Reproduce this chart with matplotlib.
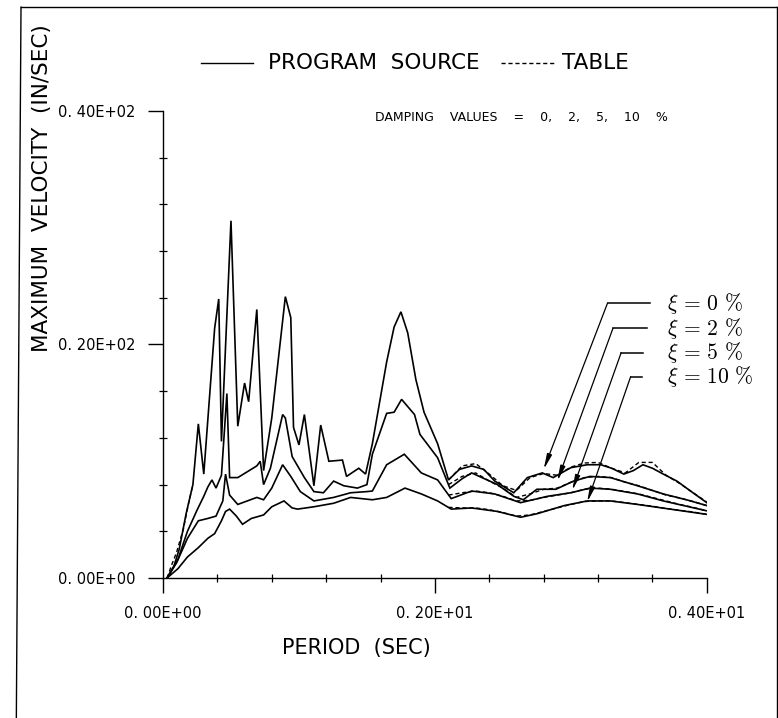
import matplotlib
matplotlib.use("Agg")
import matplotlib.pyplot as plt
from matplotlib.lines import Line2D
import numpy as np

plt.rcParams['font.family'] = ['DejaVu Sans']
plt.rcParams['mathtext.fontset'] = 'cm'

# ---------------- data ----------------
# Program source, damping 0 %
T0 = [0.03, 0.08, 0.12, 0.17, 0.22, 0.26, 0.30, 0.38, 0.41, 0.43, 0.50, 0.55,
      0.60, 0.63, 0.69, 0.74, 0.80, 0.90, 0.94, 0.96, 1.00, 1.04, 1.11, 1.16,
      1.22, 1.32, 1.35, 1.44, 1.49, 1.54, 1.60, 1.645, 1.70, 1.75, 1.80, 1.86,
      1.92, 2.02, 2.10, 2.18, 2.27, 2.36, 2.44, 2.58, 2.68, 2.79, 2.87, 3.00,
      3.12, 3.22, 3.30, 3.39, 3.46, 3.53, 3.60, 3.68, 3.78, 3.88, 4.00]
V0 = [0.0, 1.0, 2.5, 5.5, 8.0, 13.2, 8.9, 21.4, 23.9, 11.7, 30.6, 13.0,
      16.7, 15.1, 23.0, 9.2, 13.7, 24.1, 22.3, 12.9, 11.4, 14.0, 7.9, 13.1,
      10.0, 10.1, 8.7, 9.4, 8.9, 11.5, 15.5, 18.5, 21.5, 22.8, 21.0, 17.0,
      14.2, 11.5, 8.4, 9.3, 9.6, 9.3, 8.3, 7.3, 8.6, 9.0, 8.6, 9.45,
      9.7, 9.7, 9.4, 8.9, 9.2, 9.7, 9.4, 8.9, 8.3, 7.45, 6.45]

# Program source, damping 2 %
T2 = [0.03, 0.11, 0.18, 0.25, 0.30, 0.33, 0.36, 0.39, 0.43, 0.47, 0.49, 0.55,
      0.62, 0.69, 0.715, 0.74, 0.79, 0.88, 0.90, 0.95, 1.04, 1.11, 1.18, 1.255,
      1.33, 1.43, 1.50, 1.54, 1.645, 1.70, 1.755, 1.85, 1.89, 2.02, 2.11, 2.20,
      2.27, 2.46, 2.58, 2.65, 2.75, 2.89, 3.02, 3.14, 3.29, 3.49, 3.68, 3.85, 4.00]
V2 = [0.0, 1.6, 4.0, 5.8, 7.0, 7.8, 8.4, 7.7, 8.8, 15.8, 8.6, 8.6,
      9.1, 9.6, 10.0, 8.0, 9.4, 14.0, 13.7, 10.4, 8.6, 7.4, 7.3, 8.3,
      7.9, 7.7, 8.0, 10.6, 14.1, 14.2, 15.3, 14.0, 12.3, 10.3, 7.7, 8.5,
      9.0, 8.0, 7.0, 6.7, 7.6, 7.6, 8.3, 8.7, 8.6, 7.9, 7.2, 6.7, 6.2]

# Program source, damping 5 %
T5 = [0.03, 0.10, 0.18, 0.26, 0.33, 0.39, 0.44, 0.46, 0.49, 0.55, 0.69, 0.74,
      0.80, 0.88, 0.94, 1.01, 1.11, 1.255, 1.38, 1.50, 1.54, 1.645, 1.775, 1.90,
      2.02, 2.12, 2.27, 2.44, 2.63, 2.83, 3.00, 3.14, 3.29, 3.49, 3.68, 4.00]
V5 = [0.0, 1.3, 3.4, 4.9, 5.1, 5.3, 6.6, 8.9, 7.1, 6.3, 6.9, 6.7,
      7.7, 9.7, 8.7, 7.4, 6.6, 6.9, 7.3, 7.4, 7.45, 9.7, 10.6, 9.0,
      8.4, 6.8, 7.45, 7.2, 6.45, 7.0, 7.3, 7.7, 7.6, 7.2, 6.6, 5.75]

# Program source, damping 10 %
T10 = [0.03, 0.11, 0.18, 0.26, 0.33, 0.38, 0.43, 0.46, 0.49, 0.54, 0.585, 0.65,
       0.74, 0.80, 0.89, 0.95, 0.99, 1.11, 1.255, 1.38, 1.54, 1.645, 1.78, 1.90,
       2.02, 2.12, 2.27, 2.46, 2.63, 2.75, 2.95, 3.12, 3.29, 3.49, 3.73, 4.00]
V10 = [0.0, 0.8, 1.8, 2.6, 3.4, 3.8, 4.9, 5.7, 5.9, 5.3, 4.6, 5.1,
       5.4, 6.1, 6.6, 6.0, 5.9, 6.1, 6.4, 6.9, 6.7, 6.9, 7.7, 7.2,
       6.6, 5.9, 6.0, 5.7, 5.2, 5.5, 6.2, 6.6, 6.6, 6.3, 5.9, 5.45]

# Table values (dashed), visible near the origin and along the long-period tail
TT_start = [0.03, 0.06, 0.10, 0.15, 0.19, 0.22]
VT0_start = [0.0, 1.0, 2.2, 4.2, 6.5, 8.0]
TT_tail = [2.10, 2.20, 2.30, 2.40, 2.50, 2.60, 2.70, 2.80, 2.90, 3.00,
           3.10, 3.20, 3.30, 3.40, 3.50, 3.60, 3.70, 3.80, 3.90, 4.00]
VT0_tail = [8.4, 9.6, 9.8, 8.9, 7.9, 7.5, 8.6, 8.95, 8.8, 9.5,
            9.85, 9.9, 9.4, 9.0, 9.9, 9.9, 8.8, 8.1, 7.3, 6.5]
VT2_tail = [8.0, 8.7, 9.0, 8.3, 7.7, 6.9, 7.2, 7.6, 7.7, 8.2,
            8.6, 8.7, 8.6, 8.2, 7.9, 7.5, 7.1, 6.85, 6.55, 6.2]
VT5_tail = [7.1, 7.3, 7.45, 7.3, 7.0, 6.6, 6.65, 6.9, 7.1, 7.3,
            7.6, 7.7, 7.6, 7.4, 7.2, 6.9, 6.6, 6.3, 6.05, 5.75]
VT10_tail = [6.05, 6.0, 6.0, 5.85, 5.6, 5.3, 5.4, 5.7, 6.0, 6.3,
             6.55, 6.6, 6.6, 6.45, 6.3, 6.15, 5.95, 5.8, 5.65, 5.45]

damping_labels = [r'$\xi\,=\,0\ \%$', r'$\xi\,=\,2\ \%$', r'$\xi\,=\,5\ \%$', r'$\xi\,=\,10\ \%$']
# leader lines: arrow tip (on curve), corner, end of horizontal part
tips = [(2.80, 9.3), (2.90, 8.3), (3.01, 7.5), (3.12, 6.5)]
corners = [(3.27, 23.55), (3.31, 21.4), (3.37, 19.3), (3.44, 17.25)]
ends_x = [3.58, 3.56, 3.53, 3.52]

xticks_major = [0.0, 2.0, 4.0]
xtick_labels = ['0. 00E+00', '0. 20E+01', '0. 40E+01']
yticks_major = [0.0, 20.0, 40.0]
ytick_labels = ['0. 00E+00', '0. 20E+02', '0. 40E+02']

# ---------------- figure ----------------
fig = plt.figure(figsize=(7.78, 7.18), dpi=100)
ax = fig.add_axes([0.2095, 0.195, 0.699, 0.6504])

lw = 1.2
for T, V in [(T0, V0), (T2, V2), (T5, V5), (T10, V10)]:
    ax.plot(T, V, color='black', lw=lw, solid_joinstyle='miter')

ax.plot(TT_start, VT0_start, color='black', lw=1.0, ls=(0, (3, 2)))
for VT in [VT0_tail, VT2_tail, VT5_tail, VT10_tail]:
    ax.plot(TT_tail, VT, color='black', lw=1.0, ls=(0, (3, 2)))

ax.set_xlim(0, 4.0)
ax.set_ylim(0, 40.0)
ax.spines['top'].set_visible(False)
ax.spines['right'].set_visible(False)
for s in ['left', 'bottom']:
    ax.spines[s].set_linewidth(1.0)

ax.set_xticks(xticks_major)
ax.set_xticklabels(xtick_labels)
ax.set_yticks(yticks_major)
ax.set_yticklabels(ytick_labels)
ax.set_xticks(np.arange(0, 4.01, 0.4), minor=True)
ax.set_yticks(np.arange(0, 40.1, 4.0), minor=True)
ax.tick_params(which='major', direction='out', length=11, width=1.0,
               labelsize=10.5)
ax.tick_params(axis='x', which='major', pad=9)
ax.tick_params(axis='y', which='major', pad=9)
ax.tick_params(which='minor', direction='inout', length=6, width=0.9)

# leader lines with arrows
for lab, tip, cor, ex in zip(damping_labels, tips, corners, ends_x):
    ax.plot([cor[0], ex], [cor[1], cor[1]], color='black', lw=1.1, clip_on=False)
    ax.annotate('', xy=tip, xytext=cor,
                arrowprops=dict(arrowstyle='-|>,head_length=0.9,head_width=0.15',
                                color='black', lw=0.9, shrinkA=0, shrinkB=0),
                annotation_clip=False)
    ax.text(3.71, cor[1], lab, fontsize=15.5, va='center', ha='left',
            clip_on=False)

# texts
fig.text(0.054, 0.738, 'MAXIMUM  VELOCITY  (IN/SEC)', rotation=90,
         ha='center', va='center', fontsize=15.5)
fig.text(0.4576, 0.0975, 'PERIOD  (SEC)', ha='center', va='center', fontsize=15)
fig.text(0.6697, 0.8357, 'DAMPING    VALUES    =    0,    2,    5,    10    %',
         ha='center', va='center', fontsize=9)

# title legend
ty = 0.9123
fig.add_artist(Line2D([0.2584, 0.3252], [ty, ty], color='black', lw=1.0))
fig.text(0.480, ty, 'PROGRAM  SOURCE', ha='center', va='center', fontsize=15.5)
fig.add_artist(Line2D([0.644, 0.715], [ty, ty], color='black', lw=1.0,
                      ls=(0, (3, 2))))
fig.text(0.7654, ty, 'TABLE', ha='center', va='center', fontsize=15.5)

# page frame
fig.add_artist(Line2D([0.027, 0.021], [0.990, 0.0], color='black', lw=1.0))
fig.add_artist(Line2D([0.027, 1.0], [0.990, 0.990], color='black', lw=1.0))
fig.add_artist(Line2D([0.9985, 0.9985], [0.990, 0.0], color='black', lw=1.0))

fig.savefig('out.png', dpi=100, facecolor='white')
